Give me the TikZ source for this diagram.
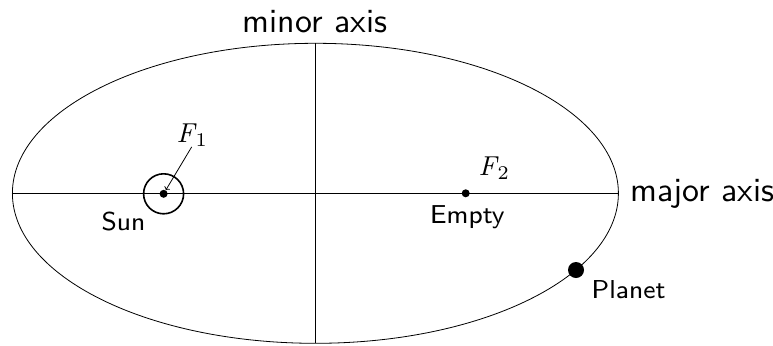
\documentclass[tikz,border=0pt]{standalone}
\usepackage{fontspec}
\newfontfamily\bigsans{lmsans10-regular.otf}
\newfontfamily\smallsans{lmsans8-regular.otf}
\newfontfamily\itroman{lmroman10-italic.otf}
\newfontfamily\uproman{lmroman7-regular.otf}
\newcommand\focus[1]{{\itroman\fontsize{27.5}{30}\selectfont F}\kern1bp\raisebox{-4bp}{\uproman\fontsize{19.5}{22}\selectfont #1}}
\usetikzlibrary{arrows.meta}
\tikzset{
  biglbl/.style={anchor=base west, inner sep=0pt, font=\bigsans\fontsize{34}{40}\selectfont},
  smalllbl/.style={anchor=base west, inner sep=0pt, font=\smallsans\fontsize{26}{30}\selectfont},
  mathlbl/.style={anchor=base west, inner sep=0pt},
  dot/.style={circle, fill=black, inner sep=0pt, minimum size=#1},
  thinline/.style={line width=0.8bp, black}
}
\begin{document}
\begin{tikzpicture}[x=1bp, y=-1bp]
\useasboundingbox (0,0) rectangle (773,345);
% ellipse and axes
\coordinate (C) at (315.4,193.3);
\coordinate (L) at (12.4,193.3);
\coordinate (R) at (618.4,193.3);
\coordinate (T) at (315.4,43.3);
\coordinate (B) at (315.4,343.3);
\draw[thinline] (C) ellipse [x radius=303bp, y radius=150bp];
\draw[thinline] (L) -- (R);
\draw[thinline] (T) -- (B);
% bodies
\node[dot=8bp] (sun) at (163.6,193.8) {};
\node[circle, draw, line width=1.6bp, minimum size=40bp, inner sep=0pt] (ring) at (sun.center) {};
\node[dot=8bp] (empty) at (465.7,193.3) {};
\node[dot=16bp] (planet) at (576,270) {};
% labels
\node[biglbl, anchor=base] (minor) at (315,32) {minor axis};
\node[biglbl] (major) at (630,201) {major axis};
\node[smalllbl] (sunlbl) at (101.5,230) {Sun};
\node[smalllbl] (emptylbl) at (430,223) {Empty};
\node[smalllbl] (planetlbl) at (591.5,298) {Planet};
\node[mathlbl] (f1) at (176.5,142.7) {\focus{1}};
\node[mathlbl] (f2) at (478.5,175) {\focus{2}};
% arrow
\draw[thinline, -{To[length=3bp]}] (f1.south) -- (sun);
\end{tikzpicture}
\end{document}
